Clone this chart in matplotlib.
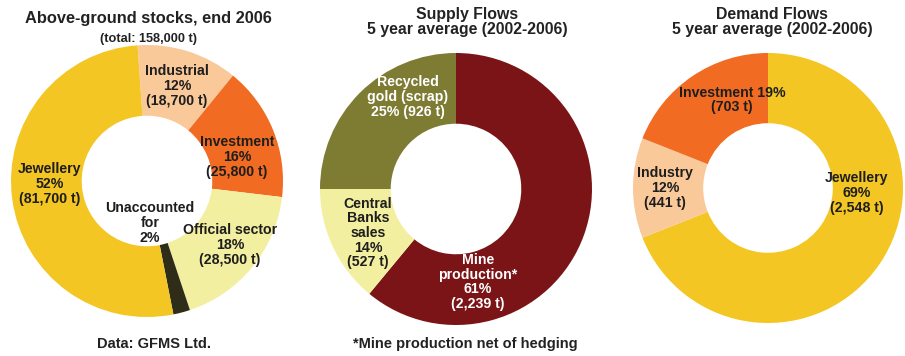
import matplotlib
matplotlib.use("Agg")
import matplotlib.pyplot as plt

plt.rcParams['font.family'] = ['Liberation Sans', 'DejaVu Sans']
plt.rcParams['font.weight'] = 'bold'

W, H = 905, 356

# above-ground stocks, end 2006
stock_names = ["Industrial", "Investment", "Official sector", "Unaccounted for", "Jewellery"]
stock_pct = [12, 16, 18, 2, 52]
stock_t = ["18,700 t", "25,800 t", "28,500 t", None, "81,700 t"]
stock_colors = ["#F9C99A", "#F26B22", "#F3EFA0", "#2F2D17", "#F4C623"]

# supply flows 2002-2006
supply_names = ["Mine production", "Central Banks sales", "Recycled gold (scrap)"]
supply_pct = [61, 14, 25]
supply_t = ["2,239 t", "527 t", "926 t"]
supply_colors = ["#7B1416", "#F3EFA0", "#7E7B33"]

# demand flows 2002-2006
demand_names = ["Jewellery", "Industry", "Investment"]
demand_pct = [69, 12, 19]
demand_t = ["2,548 t", "441 t", "703 t"]
demand_colors = ["#F4C623", "#F9C99A", "#F26B22"]

fig = plt.figure(figsize=(W / 100, H / 100), dpi=100)


def px(x, y):
    return x / W, 1 - y / H


def donut(cx, cy, r, vals, colors, start):
    ax = fig.add_axes([(cx - r) / W, 1 - (cy + r) / H, 2 * r / W, 2 * r / H])
    ax.pie(vals, colors=colors, startangle=start, counterclock=False,
           radius=1, wedgeprops=dict(width=0.52, linewidth=0))
    ax.set_xlim(-1, 1)
    ax.set_ylim(-1, 1)
    ax.axis("off")
    return ax


def label(x, y, s, color="#1e1e1e", size=10.2):
    fig.text(*px(x, y), s, ha="center", va="center", fontsize=size,
             color=color, linespacing=1.05)


donut(147, 181, 136, stock_pct, stock_colors, 94)
donut(456, 189, 136, supply_pct, supply_colors, 90)
donut(768, 188, 135, demand_pct, demand_colors, 90)

# titles
label(148, 19, "Above-ground stocks, end 2006", "#222222", 11.8)
label(148, 39, "(total: 158,000 t)", "#222222", 9.2)
label(467, 22, "Supply Flows\n5 year average (2002-2006)", "#222222", 11.4)
label(772, 22, "Demand Flows\n5 year average (2002-2006)", "#222222", 11.4)

# chart 1 labels
label(177, 86, f"{stock_names[0]}\n{stock_pct[0]}%\n({stock_t[0]})")
label(237, 157, f"{stock_names[1]}\n{stock_pct[1]}%\n({stock_t[1]})")
label(230, 245, f"{stock_names[2]}\n{stock_pct[2]}%\n({stock_t[2]})")
label(150, 223, f"Unaccounted\nfor\n{stock_pct[3]}%")
label(50, 184, f"{stock_names[4]}\n{stock_pct[4]}%\n({stock_t[4]})")

# chart 2 labels
label(408, 97, f"Recycled\ngold (scrap)\n{supply_pct[2]}% ({supply_t[2]})", "white")
label(368, 233, f"Central\nBanks\nsales\n{supply_pct[1]}%\n({supply_t[1]})")
label(478, 282, f"Mine\nproduction*\n{supply_pct[0]}%\n({supply_t[0]})", "white")

# chart 3 labels
label(732, 100, f"{demand_names[2]} {demand_pct[2]}%\n({demand_t[2]})")
label(665, 188, f"{demand_names[1]}\n{demand_pct[1]}%\n({demand_t[1]})")
label(857, 193, f"{demand_names[0]}\n{demand_pct[0]}%\n({demand_t[0]})")

# footnotes
label(154, 344, "Data: GFMS Ltd.", "#222222", 10.5)
label(465, 344, "*Mine production net of hedging", "#222222", 10.5)

fig.savefig("out.png", dpi=100)
